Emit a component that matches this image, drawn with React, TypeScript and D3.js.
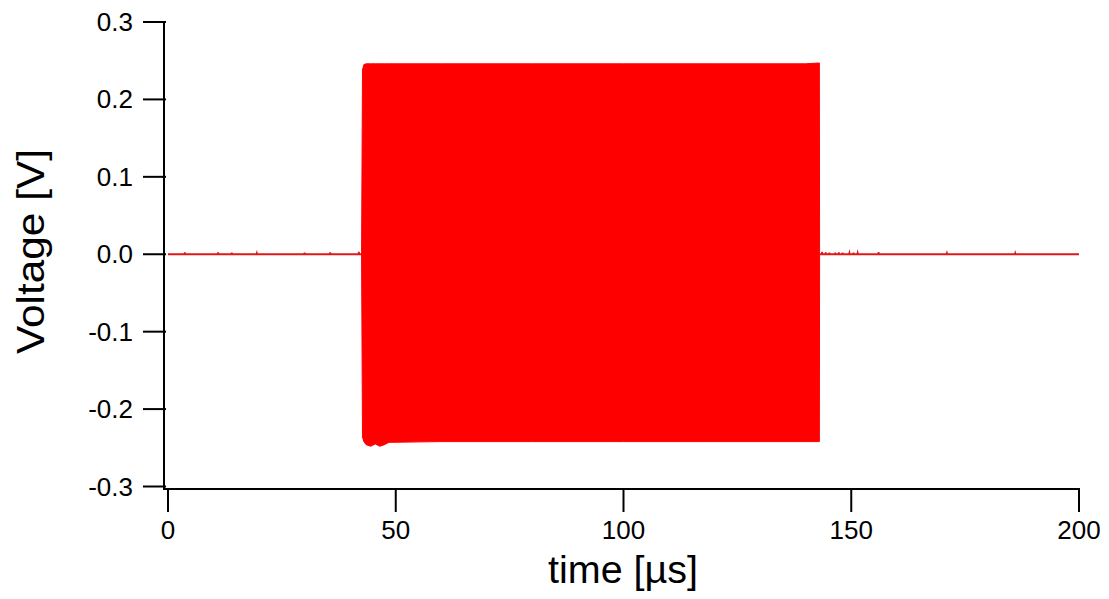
import React from "react";
import * as d3 from "d3";

// Axis ticks
const xTicks = [0, 50, 100, 150, 200];
const yTicks = [0.3, 0.2, 0.1, 0.0, -0.1, -0.2, -0.3];

// Burst envelope (µs, V): upper / lower extent of the dense carrier
const burstTimes = [42.5, 42.7, 43.0, 43.5, 44.5, 45.5, 46.5, 47.5, 48.5, 60, 80, 100, 120, 140, 142.8, 143.0, 143.05];
const burstUpper = [0.004, 0.238, 0.245, 0.246, 0.246, 0.246, 0.246, 0.246, 0.246, 0.246, 0.246, 0.246, 0.246, 0.246, 0.247, 0.247, 0.004];
const burstLower = [-0.004, -0.236, -0.242, -0.246, -0.248, -0.245, -0.248, -0.246, -0.243, -0.242, -0.242, -0.242, -0.242, -0.242, -0.242, -0.242, -0.004];

// Baseline noise spikes outside the burst (µs, V)
const spikeTimes = [3.7, 11.0, 14.0, 19.5, 30.0, 35.6, 41.9, 143.6, 144.4, 145.2, 146.5, 147.3, 148.1, 149.6, 150.5, 151.4, 156.0, 171.0, 186.0];
const spikeValues = [0.0022, 0.0025, 0.002, 0.0015, 0.002, 0.0022, 0.003, 0.003, 0.0025, 0.002, 0.002, 0.0022, 0.002, 0.0018, 0.002, 0.0018, 0.0028, 0.0015, 0.0015];

const W = 1109;
const H = 599;
const FONT = "'Liberation Sans', Arial, sans-serif";

export default function App() {
  const x = d3.scaleLinear().domain([0, 200]).range([168, 1079]);
  const y = d3.scaleLinear().domain([-0.3, 0.3]).range([486.5, 22]);

  const axisX = 164;
  const axisY = 489;

  // Baseline trace: flat zero with narrow spikes, split around the burst
  const buildSegment = (t0: number, t1: number) => {
    const pts: [number, number][] = [[t0, 0]];
    spikeTimes.forEach((t, i) => {
      if (t > t0 && t < t1) {
        pts.push([t - 0.08, 0]);
        pts.push([t, spikeValues[i]]);
        pts.push([t + 0.08, 0]);
      }
    });
    pts.push([t1, 0]);
    return pts;
  };
  const seg1 = buildSegment(0, 42.5);
  const seg2 = buildSegment(143.05, 200);

  const line = d3
    .line<[number, number]>()
    .x((d) => x(d[0]))
    .y((d) => y(d[1]));

  const burst = burstTimes.map((t, i) => ({ t, hi: burstUpper[i], lo: burstLower[i] }));
  const area = d3
    .area<{ t: number; hi: number; lo: number }>()
    .x((d) => x(d.t))
    .y0((d) => y(d.lo))
    .y1((d) => y(d.hi));

  return (
    <svg
      width={W}
      height={H}
      style={{ position: "absolute", left: 0, top: 0, background: "#fff" }}
    >
      {/* trace */}
      <path d={line(seg1) || ""} fill="none" stroke="#e01818" strokeWidth={1.8} />
      <path d={line(seg2) || ""} fill="none" stroke="#e01818" strokeWidth={1.8} />
      <path d={area(burst) || ""} fill="#ff0000" stroke="#f00" strokeWidth={1} />

      {/* y axis */}
      <line x1={axisX} x2={axisX} y1={y(0.3)} y2={axisY} stroke="#000" strokeWidth={2} />
      {yTicks.map((v) => (
        <g key={v}>
          <line x1={143} x2={axisX + 2} y1={y(v)} y2={y(v)} stroke="#000" strokeWidth={2} />
          <text
            x={133}
            y={y(v)}
            textAnchor="end"
            dominantBaseline="central"
            fontFamily={FONT}
            fontSize={26}
            fill="#000"
          >
            {v.toFixed(1)}
          </text>
        </g>
      ))}

      {/* x axis */}
      <line x1={axisX - 1} x2={x(200) + 1} y1={axisY} y2={axisY} stroke="#000" strokeWidth={2} />
      {xTicks.map((v) => (
        <g key={v}>
          <line x1={x(v)} x2={x(v)} y1={axisY} y2={axisY + 23} stroke="#000" strokeWidth={2} />
          <text
            x={x(v)}
            y={539}
            textAnchor="middle"
            fontFamily={FONT}
            fontSize={26}
            fill="#000"
          >
            {v}
          </text>
        </g>
      ))}

      {/* axis titles */}
      <text
        x={623}
        y={583}
        textAnchor="middle"
        fontFamily={FONT}
        fontSize={39}
        textLength={150}
        lengthAdjust="spacingAndGlyphs"
        fill="#000"
      >
        time [µs]
      </text>
      <text
        transform={`translate(44, 251.5) rotate(-90)`}
        textAnchor="middle"
        fontFamily={FONT}
        fontSize={39}
        textLength={205}
        lengthAdjust="spacingAndGlyphs"
        fill="#000"
      >
        Voltage [V]
      </text>
    </svg>
  );
}
